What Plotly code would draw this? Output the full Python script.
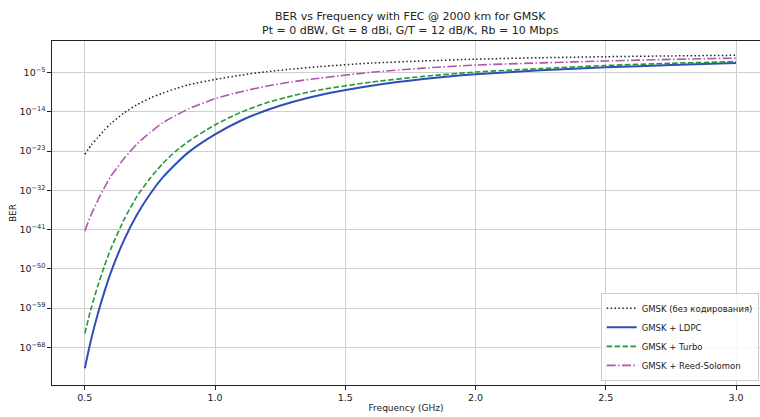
import plotly.graph_objects as go

freq_ghz = [0.5, 0.525, 0.55, 0.575, 0.6, 0.65, 0.7, 0.75, 0.8, 0.85, 0.9, 1.0, 1.1, 1.2, 1.3, 1.4, 1.6, 1.8, 2.0, 2.25, 2.5, 2.75, 3.0]

# log10(BER)
uncoded_log10 = [-23.75, -21.6, -19.9, -18.2, -16.7, -14.3, -12.4, -10.9, -9.7, -8.7, -7.8, -6.6, -5.6, -4.8, -4.2, -3.65, -2.85, -2.35, -1.95, -1.62, -1.38, -1.2, -1.06]
ldpc_log10 = [-72.8, -66.0, -60.3, -55.3, -50.8, -43.5, -37.6, -32.9, -29.0, -25.9, -23.2, -19.2, -16.0, -13.6, -11.7, -10.2, -8.05, -6.5, -5.4, -4.5, -3.8, -3.3, -2.85]
turbo_log10 = [-64.8, -58.9, -53.9, -49.4, -45.4, -38.8, -33.4, -29.3, -25.8, -23.0, -20.7, -17.0, -14.1, -11.9, -10.3, -9.0, -7.2, -5.9, -4.9, -4.1, -3.4, -2.9, -2.5]
rs_log10 = [-41.3, -37.5, -34.3, -31.4, -28.8, -24.8, -21.4, -18.8, -16.5, -14.8, -13.3, -11.0, -9.4, -8.1, -7.1, -6.3, -4.95, -4.0, -3.3, -2.8, -2.36, -2.0, -1.7]

series_names = ["GMSK (без кодирования)", "GMSK + LDPC", "GMSK + Turbo", "GMSK + Reed-Solomon"]

x_ticks = [0.5, 1.0, 1.5, 2.0, 2.5, 3.0]
y_tick_exponents = [-5, -14, -23, -32, -41, -50, -59, -68]

title_line1 = "BER vs Frequency with FEC @ 2000 km for GMSK"
title_line2 = "Pt = 0 dBW, Gt = 8 dBi, G/T = 12 dB/K, Rb = 10 Mbps"

FONT = "DejaVu Sans"

def to_ber(vals):
    return [10 ** v for v in vals]

styles = [
    dict(color="#222222", width=1.5, dash="1.5px,2.4px"),
    dict(color="#2f4fb8", width=2.0, dash="solid"),
    dict(color="#25963a", width=1.6, dash="5.5px,2.4px"),
    dict(color="#b055b0", width=1.6, dash="9px,2.4px,1.5px,2.4px"),
]

fig = go.Figure()
for name, vals, st in zip(series_names, [uncoded_log10, ldpc_log10, turbo_log10, rs_log10], styles):
    fig.add_trace(go.Scatter(
        x=freq_ghz, y=to_ber(vals), mode="lines", name=name,
        line=dict(color=st["color"], width=st["width"], dash=st["dash"], shape="spline", smoothing=0.6),
    ))

fig.update_layout(
    width=760, height=417,
    margin=dict(l=52, r=0, t=41, b=32, autoexpand=False),
    paper_bgcolor="white", plot_bgcolor="white",
    font=dict(family=FONT, size=9.5, color="#222222"),
    title=dict(
        text=title_line1 + "<br>" + title_line2,
        x=0.506, xref="paper", xanchor="center",
        y=0.953, yref="container", yanchor="top",
        font=dict(family=FONT, size=11, color="#222222"),
    ),
    showlegend=True,
    legend=dict(
        x=0.775, xanchor="left", y=0.012, yanchor="bottom",
        bgcolor="rgba(255,255,255,0.85)", bordercolor="#cccccc", borderwidth=1,
        font=dict(family=FONT, size=8.5, color="#222222"),
        tracegroupgap=0, itemwidth=30,
    ),
)

fig.update_xaxes(
    range=[0.374, 3.092], automargin=False,
    tickvals=x_ticks, ticktext=[f"{v:.1f}" for v in x_ticks],
    showgrid=True, gridcolor="#cfcfcf", gridwidth=1,
    showline=True, linecolor="#222222", linewidth=1.2, mirror=True,
    ticks="outside", ticklen=3.5, tickcolor="#222222",
    tickfont=dict(family=FONT, size=9.5),
    zeroline=False,
    title=dict(text="Frequency (GHz)", font=dict(family=FONT, size=9), standoff=2),
)
fig.update_yaxes(
    type="log", automargin=False,
    range=[-76.64, 2.22],
    tickvals=[10 ** e for e in y_tick_exponents],
    ticktext=[f"10<sup>\u2212{-e}</sup>" for e in y_tick_exponents],
    showgrid=True, gridcolor="#cfcfcf", gridwidth=1,
    showline=True, linecolor="#222222", linewidth=1.2, mirror=False,
    ticks="outside", ticklen=3.5, tickcolor="#222222",
    tickfont=dict(family=FONT, size=9.5),
    zeroline=False,
    title=dict(text="BER", font=dict(family=FONT, size=9), standoff=1),
)

fig.write_html("out.html", config={"displayModeBar": False},
               post_script="document.body.style.margin='0';")
